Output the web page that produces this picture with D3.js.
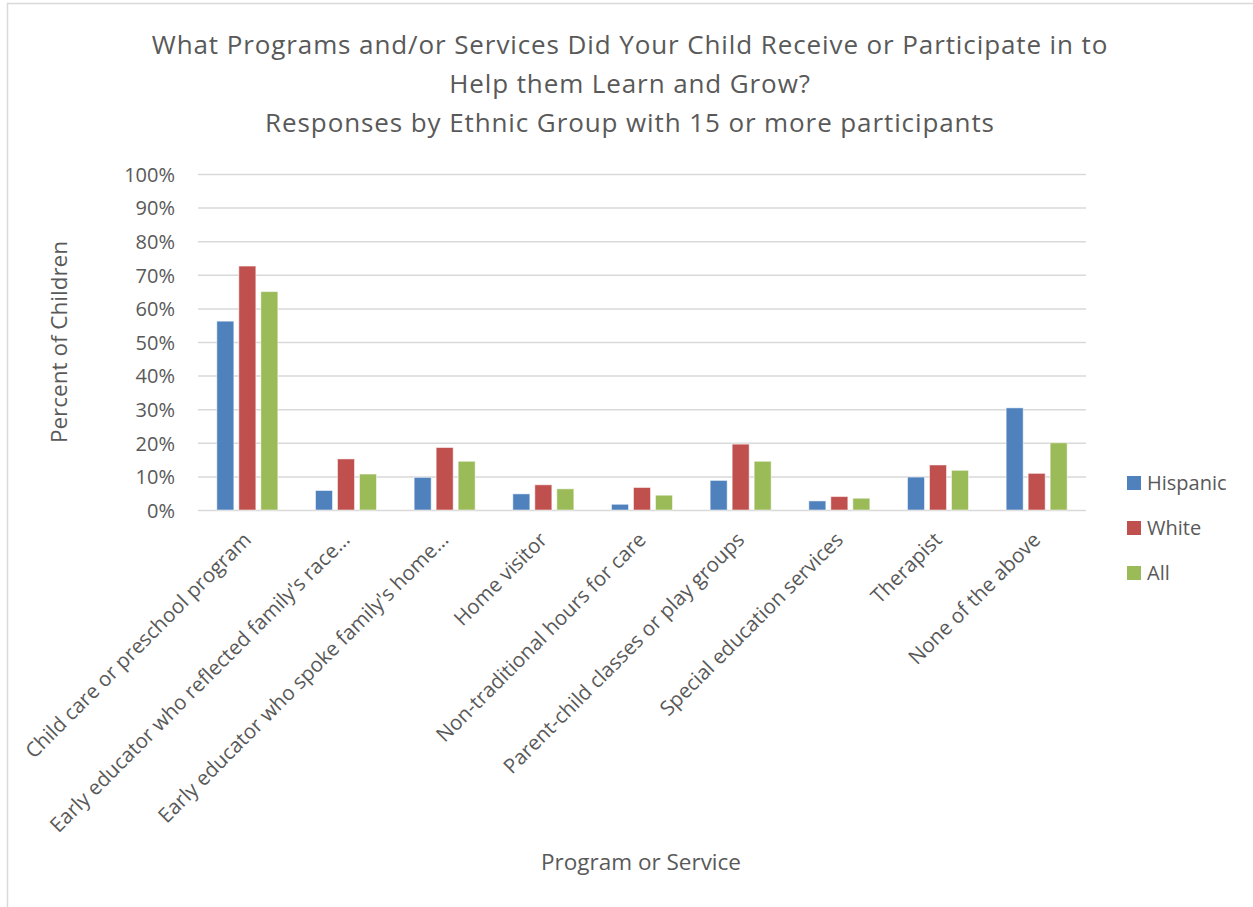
<!DOCTYPE html>
<html>
<head>
<meta charset="utf-8">
<script src="https://cdn.jsdelivr.net/npm/d3@7"></script>
<style>
  html, body { margin: 0; padding: 0; background: #fff; }
  svg text { font-family: "Open Sans", "Noto Sans", sans-serif; fill: #595959; }
</style>
</head>
<body>
<svg id="chart" width="1253" height="907"></svg>
<script>
// Survey responses: share of children per program or service, by group
const categories = [
  "Child care or preschool program",
  "Early educator who reflected family's race…",
  "Early educator who spoke family's home…",
  "Home visitor",
  "Non-traditional hours for care",
  "Parent-child classes or play groups",
  "Special education services",
  "Therapist",
  "None of the above"
];
const seriesNames = ["Hispanic", "White", "All"];
const hispanic = [0.562, 0.058, 0.097, 0.048, 0.017, 0.088, 0.027, 0.098, 0.304];
const white    = [0.726, 0.152, 0.186, 0.075, 0.067, 0.196, 0.040, 0.134, 0.109];
const all      = [0.650, 0.107, 0.145, 0.063, 0.044, 0.145, 0.035, 0.118, 0.200];
const yTicks = [0, 0.1, 0.2, 0.3, 0.4, 0.5, 0.6, 0.7, 0.8, 0.9, 1.0];
const yTickLabels = ["0%", "10%", "20%", "30%", "40%", "50%", "60%", "70%", "80%", "90%", "100%"];
const titleLines = [
  "What Programs and/or Services Did Your Child Receive or Participate in to",
  "Help them Learn and Grow?",
  "Responses by Ethnic Group with 15 or more participants"
];
const colors = ["#4f81bd", "#c0504d", "#9bbb59"];

const seriesValues = [hispanic, white, all];

const svg = d3.select("#chart");

// outer chart frame
svg.append("path")
  .attr("d", "M7.5,907 L7.5,3.5 L1253,3.5")
  .attr("fill", "none")
  .attr("stroke", "#d9d9d9")
  .attr("stroke-width", 1.5);

const plot = { left: 198, right: 1086, top: 174, bottom: 510 };

const x0 = d3.scaleBand()
  .domain(categories)
  .range([plot.left, plot.right])
  .padding(0);

const x1 = d3.scaleBand()
  .domain(seriesNames)
  .range([0, x0.bandwidth()])
  .paddingInner(0.227)
  .paddingOuter(0.856);

const y = d3.scaleLinear()
  .domain([0, 1])
  .range([plot.bottom, plot.top]);

// title
const title = svg.append("text")
  .attr("text-anchor", "middle")
  .style("font-size", "26px")
  .style("letter-spacing", "0.9px");
titleLines.forEach((line, i) => {
  title.append("tspan")
    .attr("x", 630)
    .attr("y", 54 + i * 39)
    .text(line);
});

// horizontal gridlines
const yAxis = d3.axisLeft(y)
  .tickValues(yTicks)
  .tickSize(-(plot.right - plot.left))
  .tickFormat((d, i) => yTickLabels[i]);

const gy = svg.append("g")
  .attr("transform", `translate(${plot.left},0)`)
  .call(yAxis);
gy.select(".domain").remove();
gy.selectAll(".tick line")
  .attr("stroke", "#d9d9d9")
  .attr("stroke-width", 1.5);
gy.selectAll(".tick text")
  .attr("x", -23)
  .attr("dy", "0.36em")
  .style("font-size", "20px")
  .style("fill", "#595959");

// bars
const groups = svg.append("g")
  .selectAll("g")
  .data(categories)
  .join("g")
  .attr("transform", d => `translate(${x0(d)},0)`);

groups.selectAll("rect")
  .data((d, ci) => seriesNames.map((s, si) => ({ s, si, v: seriesValues[si][ci] })))
  .join("rect")
  .attr("x", d => x1(d.s))
  .attr("width", x1.bandwidth())
  .attr("y", d => y(d.v))
  .attr("height", d => y(0) - y(d.v))
  .attr("fill", d => colors[d.si])
  .attr("stroke", "#ffffff")
  .attr("stroke-opacity", 0.5)
  .attr("stroke-width", 1);

// category labels, rotated
const xAxis = d3.axisBottom(x0).tickSize(0).tickPadding(0);
const gx = svg.append("g")
  .attr("transform", `translate(0,${plot.bottom})`)
  .call(xAxis);
gx.select(".domain").remove();
gx.selectAll(".tick text")
  .attr("text-anchor", "end")
  .attr("transform", "translate(0,26) rotate(-45)")
  .attr("x", 0)
  .attr("y", 0)
  .attr("dy", "0.35em")
  .style("font-size", "20.5px")
  .style("fill", "#595959");

// axis titles
svg.append("text")
  .attr("transform", "translate(67,342) rotate(-90)")
  .attr("text-anchor", "middle")
  .style("font-size", "22.5px")
  .text("Percent of Children");

svg.append("text")
  .attr("x", 641)
  .attr("y", 870)
  .attr("text-anchor", "middle")
  .style("font-size", "22.5px")
  .text("Program or Service");

// legend
const legend = svg.append("g")
  .selectAll("g")
  .data(seriesNames)
  .join("g")
  .attr("transform", (d, i) => `translate(1127,${476 + i * 45})`);
legend.append("rect")
  .attr("width", 14)
  .attr("height", 14)
  .attr("fill", (d, i) => colors[i]);
legend.append("text")
  .attr("x", 20)
  .attr("y", 7)
  .attr("dy", "0.36em")
  .style("font-size", "20px")
  .text(d => d);
</script>
</body>
</html>
